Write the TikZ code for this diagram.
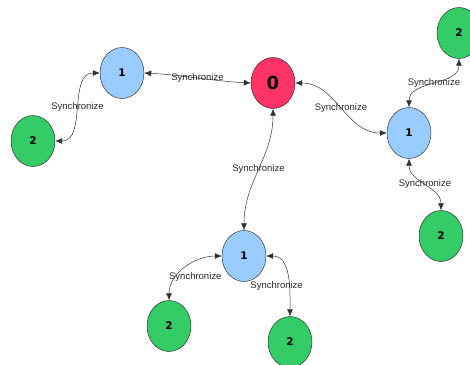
\documentclass[tikz,border=0pt]{standalone}
\usepackage{fontspec}
\setmainfont{Liberation Sans}
\newfontfamily\numfont{DejaVu Sans}
\usetikzlibrary{shapes.geometric,arrows.meta}

\definecolor{rootred}{HTML}{FF3366}
\definecolor{midblue}{HTML}{99CCFF}
\definecolor{leafgreen}{HTML}{33CC66}

\tikzstyle{peer} = [ellipse, draw=black!90, minimum width=44pt, minimum height=51pt, inner sep=0pt, font=\numfont\bfseries\fontsize{10.5}{12}\selectfont]
\tikzstyle{root} = [peer, fill=rootred, font=\numfont\bfseries\fontsize{18}{20}\selectfont]
\tikzstyle{mid} = [peer, fill=midblue]
\tikzstyle{leaf} = [peer, fill=leafgreen]
\tikzstyle{sync} = [{Latex[length=7pt,width=6pt]}-{Latex[length=7pt,width=6pt]}, draw=black!80, line width=0.5pt]
\tikzstyle{tag} = [font=\fontsize{9.5}{11}\selectfont, inner sep=0pt, text=black!85]

\begin{document}
\begin{tikzpicture}[x=1pt, y=1pt]
\useasboundingbox (0,0) rectangle (470,-364);

% peers
\node[root] (zero)   at (273,-83)  {0};
\node[mid]  (left1)  at (122,-73)  {1};
\node[leaf] (left2)  at (33,-141)  {2};
\node[mid]  (right1) at (409,-133) {1};
\node[leaf] (up2)    at (459,-33)  {2};
\node[leaf] (down2)  at (441,-236) {2};
\node[mid]  (low1)   at (244,-256) {1};
\node[leaf] (lowa2)  at (169,-326) {2};
\node[leaf] (lowb2)  at (290,-342) {2};

% links
\draw[sync] (left1.east) to[out=-3,in=177] node[tag] {Synchronize} (zero.west);
\draw[sync] (left1.west) to[out=180,in=0] node[tag] {Synchronize} (left2.east);
\draw[sync] (zero.south) to[out=-90,in=90] node[tag] {Synchronize} (low1.north);
\draw[sync] (zero.east) to[out=0,in=180] node[tag] {Synchronize} (right1.west);
\draw[sync] (right1.north) to[out=90,in=-90] node[tag] {Synchronize} (up2.south);
\draw[sync] (right1.south) to[out=-90,in=90] node[tag] {Synchronize} (down2.north);
\draw[sync] (low1.west) to[out=180,in=90] node[tag, xshift=10, yshift=-9] {Synchronize} (lowa2.north);
\draw[sync] (low1.east) to[out=0,in=90] node[tag, xshift=-11, yshift=-9] {Synchronize} (lowb2.north);
\end{tikzpicture}
\end{document}
